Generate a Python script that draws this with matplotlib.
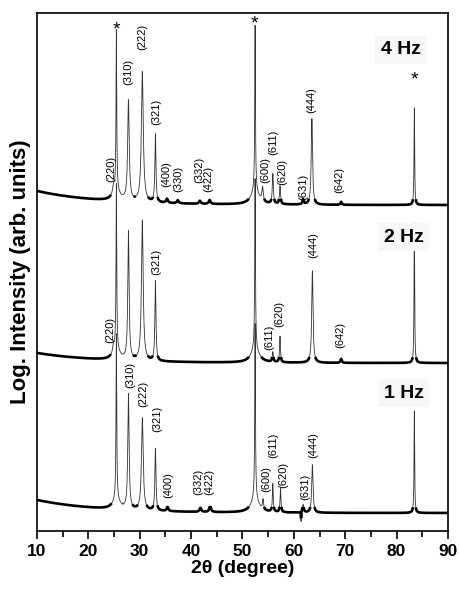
import numpy as np
import matplotlib
matplotlib.use("Agg")
import matplotlib.pyplot as plt

plt.rcParams['font.family'] = ['Liberation Sans', 'DejaVu Sans']

# --- data (heights in arbitrary log-intensity units) ---
traces = ['4 Hz', '2 Hz', '1 Hz']
baselines = [326, 168, 18]          # flat background level of each trace
left_rise = [14, 10, 13]            # extra background at low angle

pos_4hz = [24.9, 25.45, 25.45, 27.8, 30.5, 33.05, 35.3, 37.4, 41.7, 43.6,
           52.45, 52.45, 53.9, 55.9, 57.3, 61.8, 63.5, 69.2, 83.45]
hgt_4hz = [8, 160, 10, 100, 130, 68, 4, 3, 3, 4,
           165, 14, 14, 30, 18, 5, 86, 3, 97]
wid_4hz = [0.2, 0.08, 0.8, 0.18, 0.22, 0.12, 0.2, 0.2, 0.2, 0.2,
           0.08, 0.9, 0.15, 0.12, 0.12, 0.15, 0.15, 0.15, 0.07]

pos_2hz = [24.9, 25.45, 25.45, 27.8, 30.5, 33.05, 52.45, 52.45,
           55.9, 57.3, 63.6, 69.2, 83.45]
hgt_2hz = [8, 165, 10, 128, 140, 80, 170, 14, 10, 26, 92, 4, 140]
wid_2hz = [0.2, 0.08, 0.8, 0.15, 0.2, 0.12, 0.08, 0.9,
           0.12, 0.1, 0.15, 0.15, 0.07]

pos_1hz = [25.45, 25.45, 27.8, 30.5, 33.05, 35.4, 41.8, 43.7, 52.45, 52.45,
           54.0, 55.9, 57.4, 61.4, 61.8, 63.6, 83.45]
hgt_1hz = [165, 10, 115, 92, 62, 4, 4, 6, 175, 14,
           10, 28, 24, -10, 8, 48, 102]
wid_1hz = [0.08, 0.8, 0.15, 0.2, 0.12, 0.2, 0.2, 0.2, 0.08, 0.9,
           0.12, 0.1, 0.1, 0.03, 0.15, 0.15, 0.07]

peaks = [(pos_4hz, hgt_4hz, wid_4hz),
         (pos_2hz, hgt_2hz, wid_2hz),
         (pos_1hz, hgt_1hz, wid_1hz)]

# (hkl) labels: text, 2theta, bottom of label (pixel row in reference)
labels_4hz = [('(220)', 24.4, 182), ('(310)', 27.8, 85), ('(222)', 30.5, 50),
              ('(321)', 33.2, 125), ('(400)', 35.2, 187), ('(330)', 37.5, 192),
              ('(332)', 41.6, 183), ('(422)', 43.4, 192), ('(600)', 54.5, 183),
              ('(611)', 56.0, 155), ('(620)', 57.8, 185), ('(631)', 61.9, 200),
              ('(444)', 63.3, 113), ('(642)', 68.8, 193)]
labels_2hz = [('(220)', 24.3, 343), ('(321)', 33.2, 275), ('(611)', 55.3, 350),
              ('(620)', 57.2, 327), ('(444)', 63.7, 258), ('(642)', 69.1, 348)]
labels_1hz = [('(310)', 28.2, 388), ('(222)', 30.7, 407), ('(321)', 33.4, 432),
              ('(400)', 35.5, 498), ('(332)', 41.4, 495), ('(422)', 43.6, 495),
              ('(600)', 54.7, 492), ('(611)', 55.9, 458), ('(620)', 58.0, 488),
              ('(631)', 62.3, 500), ('(444)', 63.7, 458)]
stars = [(25.4, 30), (52.4, 24), (83.4, 80)]
hz_labels = [('4 Hz', 80.8, 50), ('2 Hz', 81.4, 237), ('1 Hz', 81.4, 393)]

AX_BOTTOM_PX = 531   # reference pixel row of the x axis


def px(row):
    return AX_BOTTOM_PX - row


two_theta = np.arange(10, 90.005, 0.01)

fig = plt.figure(figsize=(4.6, 5.92), dpi=100)
ax = fig.add_axes([37 / 460, 1 - 531 / 592, 411 / 460, 518 / 592])

for base, rise, (pos, hgt, wid) in zip(baselines, left_rise, peaks):
    bg = base + rise * np.exp(-(two_theta - 10) / 12.0)
    sig = np.zeros_like(two_theta)
    for p, h, w in zip(pos, hgt, wid):
        sig += h / (1 + ((two_theta - p) / w) ** 2)
    y = bg + sig
    # thin line for the sharp peaks, thicker band for the noisy background
    ax.plot(two_theta, y, color='#333333', lw=0.6)
    flat = np.where(np.abs(sig) < 6, y, np.nan)
    ax.plot(two_theta, flat, color='black', lw=1.9, solid_capstyle='butt')

for lab in (labels_4hz, labels_2hz, labels_1hz):
    for txt, x, row in lab:
        ax.text(x, px(row), txt, rotation=90, ha='center', va='bottom',
                fontsize=8, color='black')

for x, row in stars:
    ax.text(x, px(row), '*', ha='center', va='center', fontsize=14)

for txt, x, row in hz_labels:
    ax.text(x, px(row), txt, ha='center', va='center', fontsize=14,
            fontweight='bold',
            bbox=dict(facecolor='#f7f7f7', edgecolor='none', pad=4))

ax.set_xlim(10, 90)
ax.set_ylim(0, 518)
ax.set_xticks(np.arange(10, 91, 10))
ax.set_xticks(np.arange(15, 90, 10), minor=True)
ax.tick_params(axis='x', which='major', length=6, width=1.2, direction='out',
               labelsize=12.5, pad=3)
ax.tick_params(axis='x', which='minor', length=4, width=1.2, direction='out')
for t in ax.get_xticklabels():
    t.set_fontweight('bold')
ax.set_yticks([])
for s in ax.spines.values():
    s.set_linewidth(1.2)

ax.set_xlabel('2θ (degree)', fontsize=14, fontweight='bold', labelpad=1)
ax.set_ylabel('Log. Intensity (arb. units)', fontsize=16, fontweight='bold',
              labelpad=4)

plt.savefig('out.png', dpi=100)
